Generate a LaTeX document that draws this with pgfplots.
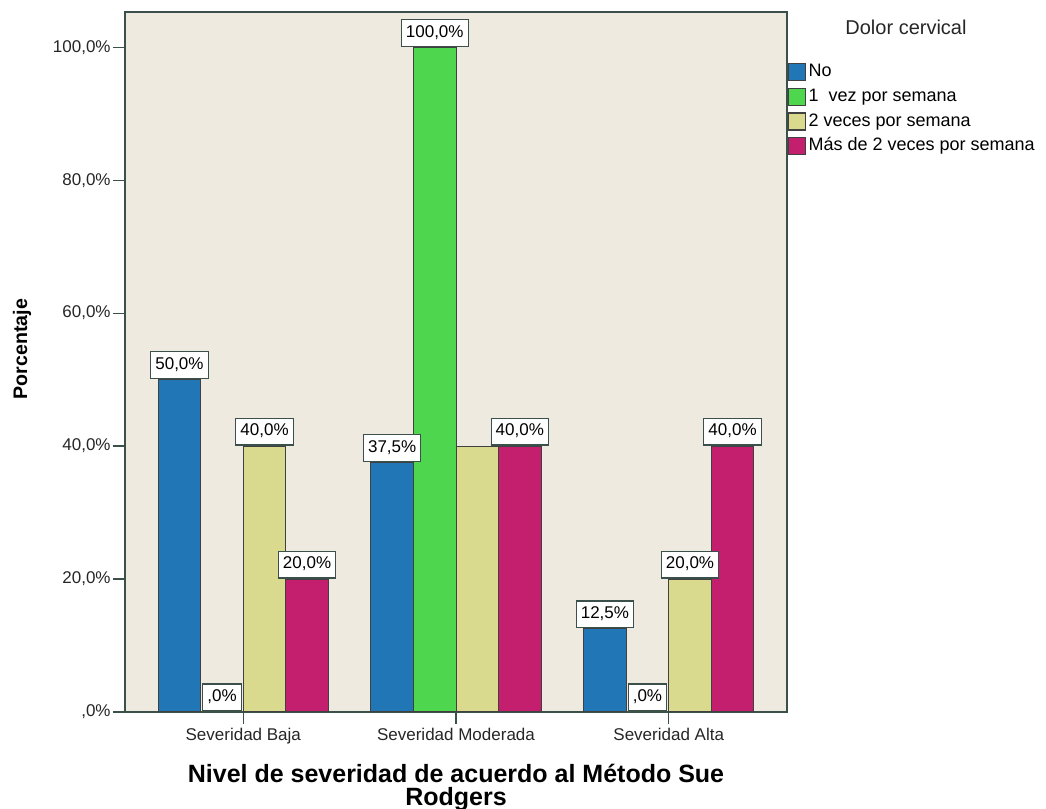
\documentclass[border=0pt]{standalone}
\usepackage{fontspec}
\setmainfont{Liberation Sans}
\usepackage{pgfplots}
\usepackage{pgfplotstable}
\pgfplotsset{compat=1.18}

\definecolor{cNo}{HTML}{2176B6}
\definecolor{cUna}{HTML}{4ED64E}
\definecolor{cDos}{HTML}{DADA8E}
\definecolor{cMas}{HTML}{C41E6E}
\definecolor{bgcol}{HTML}{EEEAE0}
\definecolor{framecol}{HTML}{3C504B}

\pgfplotstableread{
x y lab
0 50 50,0
1 37.5 37,5
2 12.5 12,5
}\tabNo
\pgfplotstableread{
x y lab
0 0 ,0
1 100 100,0
2 0 ,0
}\tabUna
\pgfplotstableread{
x y lab
0 40 40,0
1 40 x
2 20 20,0
}\tabDos
\pgfplotstableread{
x y lab
0 20 20,0
1 40 40,0
2 40 40,0
}\tabMas

\def\skiplab{x}
\newcommand\mylab{\edef\tmplab{\pgfplotspointmeta}\ifx\tmplab\skiplab\else{\setlength{\fboxsep}{2pt}\setlength{\fboxrule}{0.6pt}\fcolorbox{framecol}{white}{\rule[-2.2pt]{0pt}{8.8pt}\pgfplotspointmeta\%}}\fi}

\begin{document}
\begin{tikzpicture}
\path[use as bounding box] (0,0) rectangle (523pt,404.5pt);
\begin{axis}[
  at={(62.5pt,48.5pt)}, anchor=south west,
  scale only axis, width=331pt, height=350pt,
  ybar=0pt, bar width=0.2,
  xmin=-0.556, xmax=2.556, ymin=0, ymax=105.3,
  xtick={0,1,2},
  xticklabels={Severidad Baja, Severidad Moderada, Severidad Alta},
  ytick={0,20,40,60,80,100},
  yticklabels={{,0\%},{20,0\%},{40,0\%},{60,0\%},{80,0\%},{100,0\%}},
  tick align=outside, xtick pos=bottom, ytick pos=left,
  major tick length=6pt,
  tick style={framecol, line width=0.6pt},
  axis line style={framecol, line width=0.8pt},
  axis background/.style={fill=bgcol},
  ticklabel style={font=\fontsize{8.5}{10}\selectfont, text=black!85},
  yticklabel style={inner sep=1pt},
  xticklabel style={inner sep=2pt},
  xlabel={Nivel de severidad de acuerdo al Método Sue\\Rodgers},
  xlabel style={at={(axis description cs:0.5,0)}, anchor=north, yshift=-26pt, inner sep=0pt, align=center, font=\bfseries\fontsize{12.5}{11.5}\selectfont},
  point meta=explicit symbolic,
  nodes near coords={\mylab},
  every node near coord/.append style={anchor=south, inner sep=0pt, font=\fontsize{8.5}{10}\selectfont},
  legend image code/.code={\draw[#1, draw=black!75, line width=0.6pt] (0pt,-4.25pt) rectangle (8.5pt,4.25pt);},
  legend style={at={(1,0.93)}, anchor=north west, draw=none, fill=none, inner sep=0pt, outer sep=0pt,
    xshift=0.5pt, font=\fontsize{9}{10}\selectfont, row sep=1.5pt,
    nodes={inner sep=1.2pt, text height=6.5pt, text depth=2pt, anchor=west}},
  legend cell align=left,
]
\addplot[fill=cNo, draw=black!75, line width=0.5pt] table[x=x, y=y, meta=lab] {\tabNo};
\addplot[fill=cUna, draw=black!75, line width=0.5pt] table[x=x, y=y, meta=lab] {\tabUna};
\addplot[fill=cDos, draw=black!75, line width=0.5pt] table[x=x, y=y, meta=lab] {\tabDos};
\addplot[fill=cMas, draw=black!75, line width=0.5pt] table[x=x, y=y, meta=lab] {\tabMas};
\legend{No, 1\ \ vez por semana, 2 veces por semana, Más de 2 veces por semana}
\end{axis}
\node[rotate=90, font=\bfseries\fontsize{9.8}{11}\selectfont] at (11pt,230pt) {Porcentaje};
\node[font=\fontsize{10}{12}\selectfont, text=black!85] at (453pt,391pt) {Dolor cervical};
\end{tikzpicture}
\end{document}
